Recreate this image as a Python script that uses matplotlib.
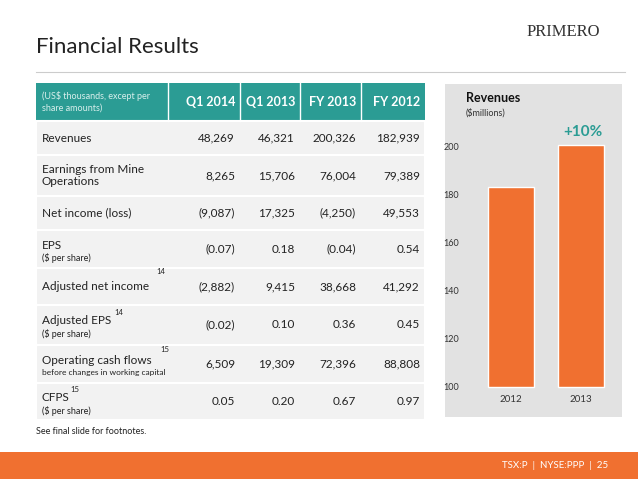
import matplotlib
matplotlib.use("Agg")
import matplotlib.pyplot as plt
from matplotlib.patches import Rectangle

columns = ["Q1 2014", "Q1 2013", "FY 2013", "FY 2012"]
row_labels = ["Revenues", "Earnings from Mine\nOperations", "Net income (loss)", "EPS",
              "Adjusted net income", "Adjusted EPS", "Operating cash flows", "CFPS"]
row_sub = ["", "", "", "($ per share)", "", "($ per share)", "before changes in working capital", "($ per share)"]
row_sup = ["", "", "", "", "14", "14", "15", "15"]
table_values = [
    ["48,269", "46,321", "200,326", "182,939"],
    ["8,265", "15,706", "76,004", "79,389"],
    ["(9,087)", "17,325", "(4,250)", "49,553"],
    ["(0.07)", "0.18", "(0.04)", "0.54"],
    ["(2,882)", "9,415", "38,668", "41,292"],
    ["(0.02)", "0.10", "0.36", "0.45"],
    ["6,509", "19,309", "72,396", "88,808"],
    ["0.05", "0.20", "0.67", "0.97"],
]
bar_years = ["2012", "2013"]
bar_revenues = [182.9, 200.3]

FONT = "Lato"
TEAL = "#2b9c94"
ORANGE = "#f07030"
plt.rcParams["font.family"] = FONT

fig = plt.figure(figsize=(6.38, 4.79), dpi=100)
bg = fig.add_axes([0, 0, 1, 1])
bg.set_xlim(0, 638); bg.set_ylim(479, 0); bg.axis("off")

bg.text(36, 47, "Financial Results", fontsize=16, va="center", color="#222222")
bg.plot([36, 625], [72, 72], color="#cccccc", lw=0.8)
bg.text(600, 32, "PRIMERO", fontsize=12, va="center", ha="right", color="#333333", fontfamily="Liberation Serif")

# table
col_x = [36, 168, 240, 300, 361, 425]
row_y = [83, 121, 155, 196, 230, 268, 305, 345, 383, 420]
bg.add_patch(Rectangle((36, 83), 389, 38, color=TEAL, lw=0))
bg.text(42, 102, "(US$ thousands, except per\nshare amounts)", fontsize=6.5, color="#d8efec", va="center", linespacing=1.4)
for i, c in enumerate(columns):
    bg.text(col_x[i + 2] - 5, 102, c, fontsize=9, color="white", ha="right", va="center", fontweight="bold")
for i in range(1, 5):
    bg.plot([col_x[i], col_x[i]], [83, 121], color="white", lw=1)
for r in range(8):
    y0, y1 = row_y[r + 1], row_y[r + 2]
    bg.add_patch(Rectangle((36, y0), 389, y1 - y0, facecolor="#f2f2f2", edgecolor="white", lw=1.5))
    ym = (y0 + y1) / 2
    if row_sub[r]:
        bg.text(42, ym - 4, row_labels[r], fontsize=8.5, va="center", color="#222222")
        bg.text(42, ym + 9, row_sub[r], fontsize=6 if len(row_sub[r]) > 15 else 6.5, va="center", color="#222222")
    else:
        bg.text(42, ym, row_labels[r], fontsize=8.5, va="center", color="#222222", linespacing=1.2)
    if row_sup[r]:
        off = {4: 114, 5: 72, 6: 118, 7: 28}[r]
        bg.text(42 + off, ym - 12 if r in (4, 6) else ym - 10, row_sup[r], fontsize=5.5, color="#222222")
    for c in range(4):
        bg.text(col_x[c + 2] - 5, ym, table_values[r][c], fontsize=8.5, ha="right", va="center", color="#222222")
bg.text(36, 431, "See final slide for footnotes.", fontsize=6.5, va="center", color="#222222")

# side panel
bg.add_patch(Rectangle((445, 84), 177, 333, facecolor="#e2e2e2", edgecolor="none"))
bg.text(466, 98, "Revenues", fontsize=9, fontweight="bold", va="center", color="#111111")
bg.text(466, 113, "($millions)", fontsize=6.5, va="center", color="#333333")

left_px, width_px = 472.5, 140
ax = fig.add_axes([left_px / 638, 1 - 387 / 479, width_px / 638, (387 - 146) / 479])
ax.patch.set_alpha(0)
x = range(len(bar_years))
base = 100
ax.bar(x, [v - base for v in bar_revenues], width=0.66, color=ORANGE, edgecolor="white", lw=1, bottom=base)
ax.set_yticks([100, 120, 140, 160, 180, 200])
ax.set_xticks(list(x)); ax.set_xticklabels(bar_years)
ax.set_xlim(-0.55, 1.45)
ax.set_ylim(100, 200)
ax.tick_params(length=0, labelsize=6.5, colors="#333333")
for lab in ax.get_yticklabels():
    lab.set_horizontalalignment("left")
ax.tick_params(axis="y", pad=21)
ax.tick_params(axis="x", labelsize=7, pad=6)
for s in ax.spines.values():
    s.set_visible(False)
for b in ax.patches:
    b.set_clip_on(False)
ax.text(1.02, 203, "+10%", ha="center", va="bottom", color=TEAL, fontsize=11, fontweight="bold")

# footer
bg.add_patch(Rectangle((0, 452), 638, 27, color=ORANGE, lw=0))
bg.text(608, 465, "TSX:P  |  NYSE:PPP  |  25", fontsize=7, ha="right", va="center", color="white")

fig.savefig("out.png", dpi=100)
